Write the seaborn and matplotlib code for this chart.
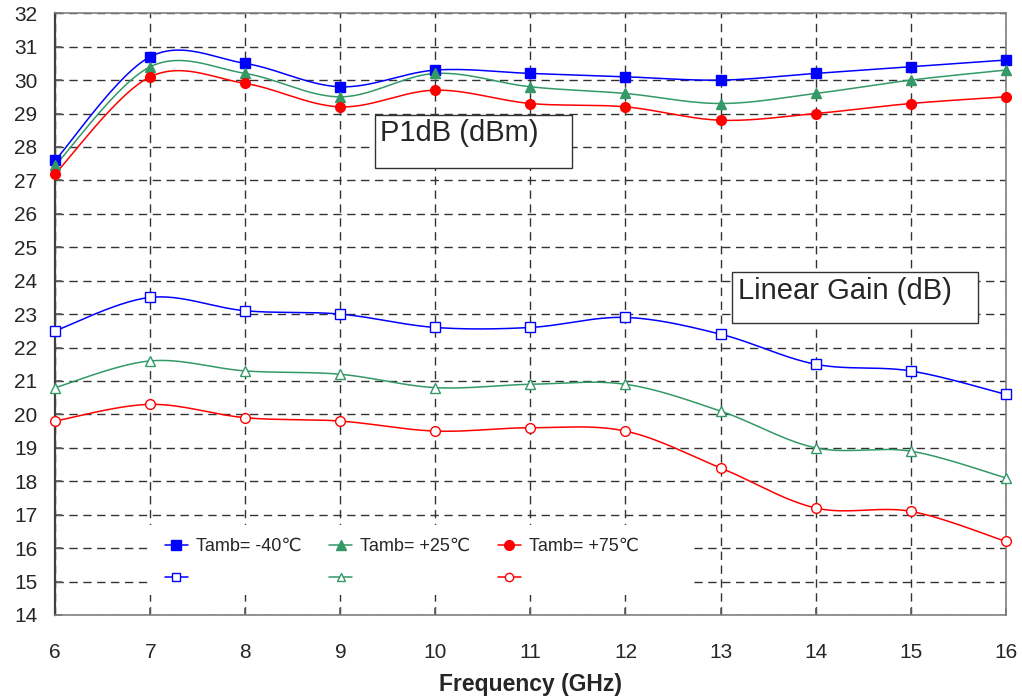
import numpy as np
import pandas as pd
import matplotlib
matplotlib.use("Agg")
import matplotlib.pyplot as plt
from matplotlib.lines import Line2D
from matplotlib.patches import Rectangle
import seaborn as sns

freq = [6, 7, 8, 9, 10, 11, 12, 13, 14, 15, 16]
p1db_m40 = [27.6, 30.7, 30.5, 29.8, 30.3, 30.2, 30.1, 30.0, 30.2, 30.4, 30.6]
p1db_p25 = [27.45, 30.4, 30.2, 29.5, 30.2, 29.8, 29.6, 29.3, 29.6, 30.0, 30.3]
p1db_p75 = [27.2, 30.1, 29.9, 29.2, 29.7, 29.3, 29.2, 28.8, 29.0, 29.3, 29.5]
gain_m40 = [22.5, 23.5, 23.1, 23.0, 22.6, 22.6, 22.9, 22.4, 21.5, 21.3, 20.6]
gain_p25 = [20.8, 21.6, 21.3, 21.2, 20.8, 20.9, 20.9, 20.1, 19.0, 18.9, 18.1]
gain_p75 = [19.8, 20.3, 19.9, 19.8, 19.5, 19.6, 19.5, 18.4, 17.2, 17.1, 16.2]
labels = ["Tamb= -40\u2103", "Tamb= +25\u2103", "Tamb= +75\u2103"]
colors = ["#0000FF", "#339966", "#FF0000"]
markers = ["s", "^", "o"]

sns.set_theme(style="white")
plt.rcParams["font.family"] = ["Liberation Sans", "DejaVu Sans"]


def smooth(xs, ys, n=30):
    """Excel-style smoothed line (Catmull-Rom Bezier) for drawing only."""
    P = np.column_stack([xs, ys]).astype(float)
    P = np.vstack([P[0], P, P[-1]])
    out = []
    t = np.linspace(0, 1, n)[:, None]
    for i in range(1, len(P) - 2):
        p0, p1, p2, p3 = P[i - 1], P[i], P[i + 1], P[i + 2]
        c1 = p1 + (p2 - p0) / 6.0
        c2 = p2 - (p3 - p1) / 6.0
        seg = ((1 - t) ** 3) * p1 + 3 * ((1 - t) ** 2) * t * c1 + 3 * (1 - t) * t ** 2 * c2 + t ** 3 * p2
        out.append(seg if i == 1 else seg[1:])
    out = np.vstack(out)
    return out[:, 0], out[:, 1]


fig = plt.figure(figsize=(10.22, 6.98), dpi=100)
ax = fig.add_axes([0.054, 0.119, 0.930, 0.862])

series = [(p1db_m40, gain_m40), (p1db_p25, gain_p25), (p1db_p75, gain_p75)]
handles = []
for (p, g), lab, c, m in zip(series, labels, colors, markers):
    for vals, filled in ((p, True), (g, False)):
        sx, sy = smooth(freq, vals)
        sns.lineplot(x=sx, y=sy, ax=ax, color=c, lw=1.1, sort=False, estimator=None)
        ax.plot(freq, vals, ls="none", marker=m, ms=7,
                mfc=c if filled else "white", mec=c, mew=1.0, zorder=4, clip_on=False)
    handles.append(Line2D([], [], color=c, lw=1.1, marker=m, ms=7, mfc=c, mec=c))
    handles.append(Line2D([], [], color=c, lw=1.1, marker=m, ms=6, mfc="white", mec=c))

ax.set_xlim(6, 16)
ax.set_ylim(14, 32)
ax.set_xticks(range(6, 17))
ax.set_yticks(range(14, 33))
ax.grid(True, ls=(0, (6, 4)), color="#333333", lw=1.0)
ax.set_axisbelow(True)
for s in ["top", "right", "bottom"]:
    ax.spines[s].set_color("#808080")
    ax.spines[s].set_linewidth(1.2)
ax.spines["left"].set_color("#404040")
ax.spines["left"].set_linewidth(1.6)
ax.tick_params(axis="both", direction="in", length=5, color="#606060",
               labelsize=15, bottom=True, left=True)
ax.tick_params(axis="y", pad=13)
ax.tick_params(axis="x", pad=20)
ax.set_xlabel("Frequency (GHz)", fontsize=16.5, fontweight="bold", labelpad=8)

# annotation boxes (axes-fraction layout)
ax.add_patch(Rectangle((0.3365, 0.7425), 0.2071, 0.0881, transform=ax.transAxes,
                       fc="white", ec="#333333", lw=1.0, zorder=5))
ax.text(0.3420, 0.8240, "P1dB (dBm)", fontsize=21, va="top", ha="left",
        transform=ax.transAxes, zorder=6)
ax.add_patch(Rectangle((0.7119, 0.4850), 0.2587, 0.0848, transform=ax.transAxes,
                       fc="white", ec="#333333", lw=1.0, zorder=5))
ax.text(0.7180, 0.5620, "Linear Gain (dB)", fontsize=21, va="top", ha="left",
        transform=ax.transAxes, zorder=6)

# white legend area hiding the grid
ax.add_patch(Rectangle((0.0988, 0.0332), 0.5689, 0.1163, transform=ax.transAxes,
                       fc="white", ec="none", zorder=1))
leg = ax.legend(handles, ["", "", "", "", "", ""], ncol=3, loc="lower left",
                bbox_to_anchor=(0.108, 0.034), frameon=False, fontsize=13,
                columnspacing=1.55, handlelength=1.25, handletextpad=0.45,
                borderaxespad=0, labelspacing=0.85)
texts = leg.get_texts()
for i, lab in enumerate(labels):
    texts[2 * i].set_text(lab)

fig.savefig("out.png", dpi=100, facecolor="white")
